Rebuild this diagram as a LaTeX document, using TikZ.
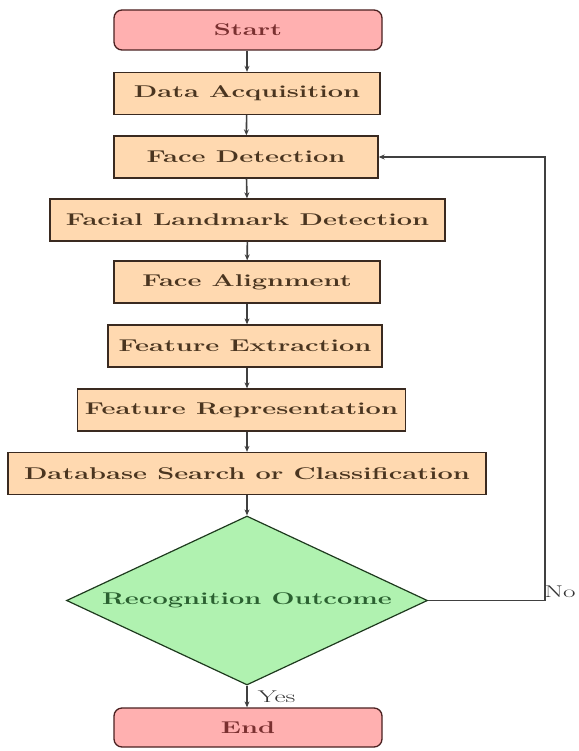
\documentclass[tikz,border=0pt]{standalone}
\usepackage{graphicx}
\usetikzlibrary{arrows.meta,shapes.geometric}
\definecolor{startfill}{HTML}{FFB0B0}
\definecolor{startdraw}{HTML}{4A2020}
\definecolor{starttext}{HTML}{7A3030}
\definecolor{boxfill}{HTML}{FFD9B0}
\definecolor{boxdraw}{HTML}{3A2A20}
\definecolor{boxtext}{HTML}{4A3520}
\definecolor{decfill}{HTML}{B0F2B0}
\definecolor{decdraw}{HTML}{1E3A1E}
\definecolor{dectext}{HTML}{2A6030}
\definecolor{arrowcol}{HTML}{404040}
\newcommand{\wt}[1]{\scalebox{1.6}[1]{#1}}
\tikzset{
  basefont/.style={font=\fontsize{17}{20}\selectfont\bfseries},
  termbox/.style={basefont, rectangle, rounded corners=8pt, fill=startfill, draw=startdraw, line width=1.3pt, text=starttext, minimum height=40pt, inner sep=0pt},
  procbox/.style={basefont, rectangle, fill=boxfill, draw=boxdraw, line width=1.3pt, text=boxtext, minimum height=42pt, inner sep=0pt},
  decbox/.style={basefont, diamond, aspect=2.136, fill=decfill, draw=decdraw, line width=1.2pt, text=dectext, minimum width=361pt, minimum height=169pt, inner sep=0pt},
  flow/.style={draw=arrowcol, line width=1.6pt, -{Stealth[length=6pt,width=5pt]}},
  lbl/.style={font=\fontsize{17}{20}\selectfont, text=black!80, inner sep=0pt}
}
\begin{document}
\begin{tikzpicture}[x=1pt,y=-1pt]
\useasboundingbox (0,0) rectangle (578,751);
\node[termbox, minimum width=268pt] (start) at (248,30) {\wt{Start}};
\node[procbox, minimum width=266pt] (acq) at (247,93.5) {\wt{Data Acquisition}};
\node[procbox, minimum width=264pt] (det) at (246,157) {\wt{Face Detection}};
\node[procbox, minimum width=395pt] (lmk) at (247.5,220) {\wt{Facial Landmark Detection}};
\node[procbox, minimum width=266pt] (ali) at (247,282) {\wt{Face Alignment}};
\node[procbox, minimum width=274pt] (ext) at (245,346) {\wt{Feature Extraction}};
\node[procbox, minimum width=328pt] (rep) at (241.5,410) {\wt{Feature Representation}};
\node[procbox, minimum width=478pt] (db) at (247,473.5) {\wt{Database Search or Classification}};
\node[decbox] (out) at (247,600.5) {\wt{Recognition Outcome}};
\node[termbox, minimum width=268pt, minimum height=39pt] (end) at (248,727.5) {\wt{End}};
\coordinate (c1) at (545,600.5);
\coordinate (c2) at (545,157);
\draw[flow] (start.south -| acq.north) -- (acq.north);
\draw[flow] (acq) -- (det);
\draw[flow] (det) -- (lmk);
\draw[flow] (lmk) -- (ali);
\draw[flow] (ali.south) -- (ali.south |- ext.north);
\draw[flow] (ext.south -| ali.south) -- (ali.south |- rep.north);
\draw[flow] (rep.south -| db.north) -- (db.north);
\draw[flow] (db) -- (out);
\draw[flow] (out) -- (end.north -| out.south) node[lbl, midway, right=10pt] {\wt{Yes}};
\draw[flow] (out.east) -- (c1) -- (c2) -- (det.east);
\node[lbl] (no) at (560,592) {\wt{No}};
\end{tikzpicture}
\end{document}
